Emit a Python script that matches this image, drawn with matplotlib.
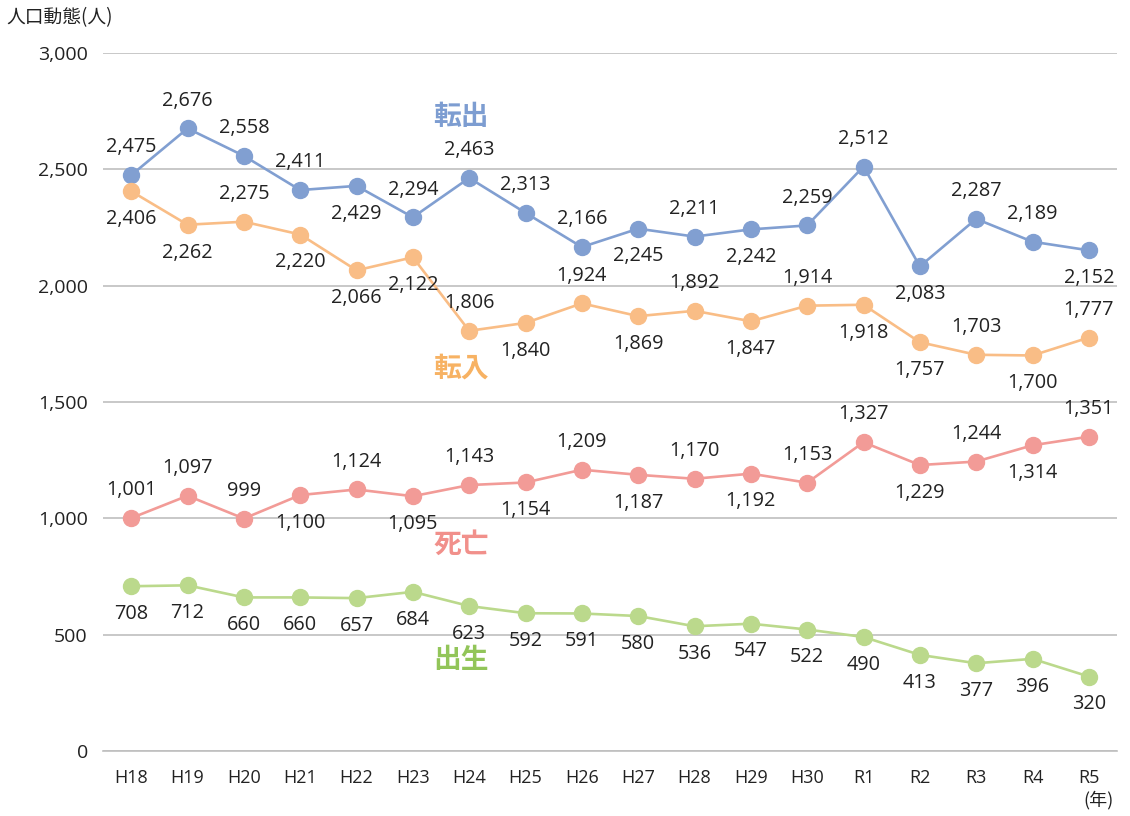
import matplotlib.pyplot as plt

plt.rcParams['font.family'] = ['Open Sans', 'Noto Sans CJK JP', 'DejaVu Sans']

years = ["H18", "H19", "H20", "H21", "H22", "H23", "H24", "H25", "H26", "H27",
         "H28", "H29", "H30", "R1", "R2", "R3", "R4", "R5"]
tenshutsu = [2475, 2676, 2558, 2411, 2429, 2294, 2463, 2313, 2166, 2245,
             2211, 2242, 2259, 2512, 2083, 2287, 2189, 2152]
tennyu = [2406, 2262, 2275, 2220, 2066, 2122, 1806, 1840, 1924, 1869,
          1892, 1847, 1914, 1918, 1757, 1703, 1700, 1777]
shibou = [1001, 1097, 999, 1100, 1124, 1095, 1143, 1154, 1209, 1187,
          1170, 1192, 1153, 1327, 1229, 1244, 1314, 1351]
shussei = [708, 712, 660, 660, 657, 684, 623, 592, 591, 580,
           536, 547, 522, 490, 413, 377, 396, 320]

# label placement: 1 = above, -1 = below
pos_out = [1, 1, 1, 1, -1, 1, 1, 1, 1, -1, 1, -1, 1, 1, -1, 1, 1, -1]
pos_in = [-1, -1, 1, -1, -1, -1, 1, -1, 1, -1, 1, -1, 1, -1, -1, 1, -1, 1]
pos_die = [1, 1, 1, -1, 1, -1, 1, -1, 1, -1, 1, -1, 1, 1, -1, 1, -1, 1]
pos_born = [-1] * 18

series = [
    ("転出", tenshutsu, pos_out, "#819fd1", "#7d9dd1", 2725),
    ("転入", tennyu, pos_in, "#f9bd86", "#f7b263", 1642),
    ("死亡", shibou, pos_die, "#f29b97", "#f1908b", 885),
    ("出生", shussei, pos_born, "#bbd98c", "#92c559", 391),
]

fig = plt.figure(figsize=(11.3, 8.16), dpi=100)
ax = fig.add_axes([0.0912, 0.0797, 0.8973, 0.8553])

x = list(range(len(years)))
for name, vals, pos, col, tcol, ty in series:
    ax.plot(x, vals, color=col, lw=1.9, marker="o", ms=11.5, zorder=3)
    for xi, v, p in zip(x, vals, pos):
        ax.annotate(f"{v:,}", (xi, v), xytext=(0, 20 * p), textcoords="offset points",
                    ha="center", va="center", fontsize=14.3, color="#222222")
    ax.text(5.86, ty, name, color=tcol, fontsize=20, fontweight="bold",
            ha="center", va="center", family=["Noto Sans CJK JP"])

ax.set_xlim(-0.5, len(years) - 0.5)
ax.set_ylim(0, 3000)
ax.set_yticks(range(0, 3001, 500))
ax.set_yticklabels([f"{t:,}" for t in range(0, 3001, 500)])
ax.set_xticks(x)
ax.set_xticklabels(years)
ax.tick_params(axis="y", length=0, labelsize=14, colors="#222222", pad=11)
ax.tick_params(axis="x", length=0, labelsize=13, colors="#222222", pad=13)
ax.grid(axis="y", color="#bfbfbf", lw=1.2)
ax.set_axisbelow(True)
for s in ["top", "right", "left"]:
    ax.spines[s].set_visible(False)
ax.spines["bottom"].set_color("#bfbfbf")
ax.spines["bottom"].set_linewidth(1.2)

fig.text(0.053, 0.978, "人口動態(人)", fontsize=13.5, ha="center", va="center", color="#222222",
         family=["Noto Sans CJK JP"])
fig.text(0.972, 0.019, "(年)", fontsize=13, ha="center", va="center", color="#222222",
         family=["Noto Sans CJK JP"])

fig.savefig("out.png", dpi=100)
